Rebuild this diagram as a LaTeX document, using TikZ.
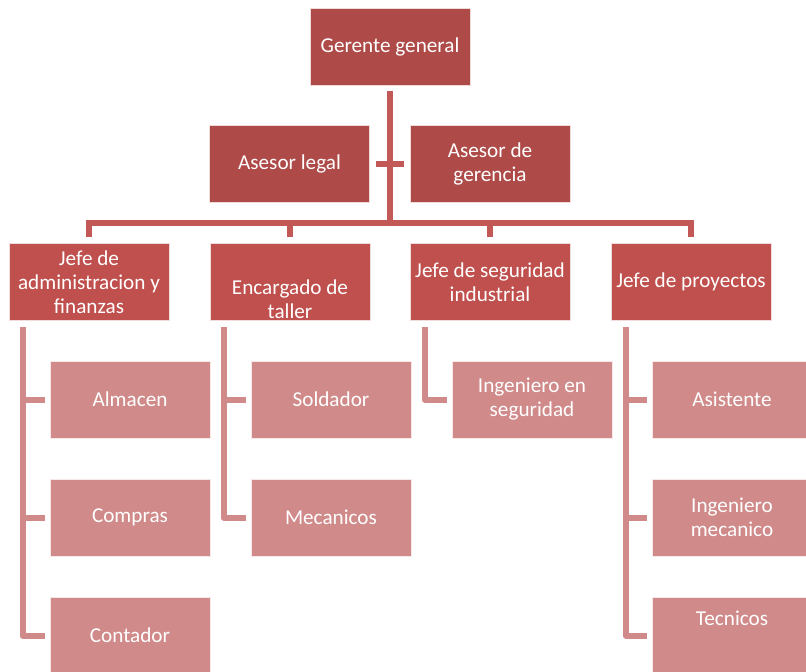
\documentclass[tikz,border=0pt]{standalone}
\usepackage{fontspec}
\setmainfont{Carlito}
\definecolor{darkRed}{HTML}{AE4A48}
\definecolor{midRed}{HTML}{C0504D}
\definecolor{lightRed}{HTML}{D08A89}
\tikzset{
	topBox/.style={rectangle, draw=white!80!darkRed, line width=0.6pt, fill=darkRed, text=white, align=center, minimum width=160pt, minimum height=77pt, inner sep=0pt, font=\fontsize{21.2}{24}\selectfont},
	jefeBox/.style={topBox, fill=midRed, draw=white!80!midRed},
	childBox/.style={topBox, fill=lightRed, draw=white!80!lightRed},
	mainLine/.style={draw=midRed!95!white, line width=6pt},
	subLine/.style={draw=lightRed, line width=6pt, line join=round}
}
\begin{document}
\begin{tikzpicture}[x=1pt, y=-1pt]
	\useasboundingbox (0,0) rectangle (806,672);
	\clip (0,0) rectangle (806,672);

	% top level
	\node[topBox](gerente) at (390,46.5){Gerente general};
	\node[topBox](legal) at (289.5,164){Asesor legal};
	\node[topBox](asesorGer) at (490,164){Asesor de\\gerencia};

	\coordinate(bus) at (390,223);
	\draw[mainLine] ([yshift=-6pt]gerente.south) -- (bus);
	\draw[mainLine] ([xshift=6pt]legal.east) -- ([xshift=-6pt]asesorGer.west);

	% draw jefe boxes
	\node[jefeBox](admin) at (89,282){Jefe de\\administracion y\\finanzas};
	\node[jefeBox, label={[white, align=center, yshift=-17pt, font=\fontsize{21.2}{24}\selectfont]center:Encargado de\\taller}](taller) at (290,282){};
	\node[jefeBox](seguridad) at (490,282){Jefe de seguridad\\industrial};
	\node[jefeBox](proyectos) at (691,282){Jefe de proyectos};

	\draw[mainLine] (bus) -| ([yshift=6pt]admin.north);
	\draw[mainLine] (bus) -| ([yshift=6pt]taller.north);
	\draw[mainLine] (bus) -| ([yshift=6pt]seguridad.north);
	\draw[mainLine] (bus) -| ([yshift=6pt]proyectos.north);

	% draw admin boxes
	\node[childBox](almacen) at (130,399.5){Almacen};
	\node[childBox](compras) at (130,517.5){Compras};
	\node[childBox](contador) at (130,635.5){Contador};
	\coordinate(adminRail) at ([xshift=14pt,yshift=-6pt]admin.south west);
	\draw[subLine] (adminRail) |- ([xshift=-5pt]contador.west);
	\draw[subLine] (adminRail |- almacen.west) -- ([xshift=-5pt]almacen.west);
	\draw[subLine] (adminRail |- compras.west) -- ([xshift=-5pt]compras.west);

	% draw taller boxes
	\node[childBox](soldador) at (331,399.5){Soldador};
	\node[childBox](mecanicos) at (331,517.5){Mecanicos};
	\coordinate(tallerRail) at ([xshift=14pt,yshift=-6pt]taller.south west);
	\draw[subLine] (tallerRail) |- ([xshift=-5pt]mecanicos.west);
	\draw[subLine] (tallerRail |- soldador.west) -- ([xshift=-5pt]soldador.west);

	% draw seguridad boxes
	\node[childBox](ingSeg) at (532,399.5){Ingeniero en\\seguridad};
	\coordinate(segRail) at ([xshift=15pt,yshift=-6pt]seguridad.south west);
	\draw[subLine] (segRail) |- ([xshift=-5pt]ingSeg.west);

	% draw proyectos boxes
	\node[childBox](asistente) at (732,399.5){Asistente};
	\node[childBox](ingMec) at (732,517.5){Ingeniero\\mecanico};
	\node[childBox, label={[white, yshift=17pt, font=\fontsize{21.2}{24}\selectfont]center:Tecnicos}](tecnicos) at (732,635.5){};
	\coordinate(proyRail) at ([xshift=15pt,yshift=-6pt]proyectos.south west);
	\draw[subLine] (proyRail) |- ([xshift=-5pt]tecnicos.west);
	\draw[subLine] (proyRail |- asistente.west) -- ([xshift=-5pt]asistente.west);
	\draw[subLine] (proyRail |- ingMec.west) -- ([xshift=-5pt]ingMec.west);
\end{tikzpicture}
\end{document}
